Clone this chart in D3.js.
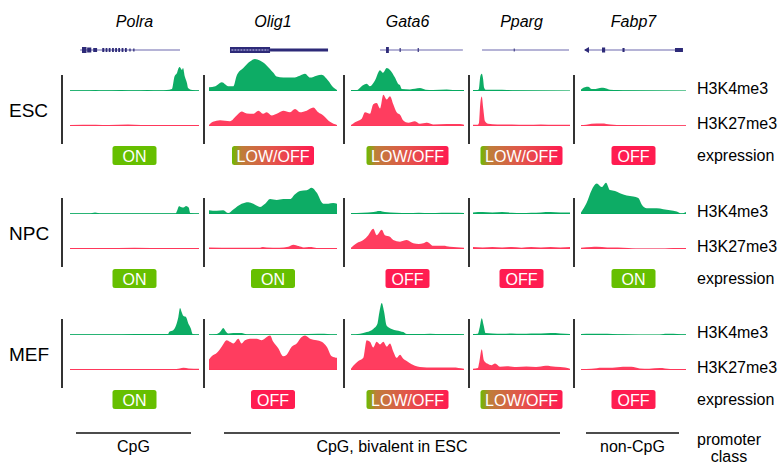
<!DOCTYPE html>
<html>
<head>
<meta charset="utf-8">
<script src="https://cdn.jsdelivr.net/npm/d3@7"></script>
<style>
  body { margin: 0; background: #fff; }
  svg { display: block; font-family: "Liberation Sans", Arial, sans-serif; }
</style>
</head>
<body>
<script>
// genes, cell stages, marks
var genes = ["Polra", "Olig1", "Gata6", "Pparg", "Fabp7"];
var stages = ["ESC", "NPC", "MEF"];
var marks = ["H3K4me3", "H3K27me3"];

// expression calls per stage (rows) and gene (columns)
var expression = [
    ["ON", "LOW/OFF", "LOW/OFF", "LOW/OFF", "OFF"],
    ["ON", "ON", "OFF", "OFF", "ON"],
    ["ON", "OFF", "LOW/OFF", "LOW/OFF", "OFF"]
];

// promoter classes: label, first gene, last gene
var promoterClass = [["CpG", 0, 0], ["CpG, bivalent in ESC", 1, 3], ["non-CpG", 4, 4]];

// ChIP-seq profiles: [position along locus (%), signal]
var escK4 = [
    [[0,2],[10,2],[20,3],[25,2],[40,3],[50,2],[60,3],[70,2],[75,3],[79,6],[81,45],[83,57],[84,70],[85,75],[86.8,66],[87.6,72],[89,45],[90.7,24],[91.5,9],[94.6,3],[100,2]],
    [[0,12],[5,15],[10,27],[15,15],[19,15],[21.6,48],[26.8,72],[32,92],[35.9,100],[39.8,95],[45,80],[50.3,57],[52.8,45],[58,42],[65.9,42],[71,48],[75,54],[79,42],[84,48],[88,51],[93,33],[97,12],[100,3]],
    [[0,3],[5,3],[10.6,18],[13.9,23],[16.8,15],[21.2,33],[25.7,65],[28.3,57],[31.6,72],[34.5,66],[38.9,42],[41.6,23],[43.4,18],[44.9,6],[52.2,5],[61,9],[66,4],[72.6,3],[84.7,5],[90,3],[100,3]],
    [[0,3],[5,3],[6.2,8],[7.5,45],[9,54],[10.3,40],[11.5,10],[13,4],[25,4],[35,3],[45,2],[100,1]],
    [[0,5],[3.8,12],[6.7,13],[10.2,6],[14,6],[18,9],[21,10],[24,8],[27.6,4],[35,3],[45,2],[100,1]]
];
var escK27 = [
    [[0,3],[20,4],[30,3],[45,5],[55,3],[100,3]],
    [[0,3],[3.1,13],[8.6,18],[16.4,15],[21.6,33],[25.5,45],[29.5,39],[34.6,38],[38.5,48],[42.4,38],[45,43],[49,33],[52.9,38],[58,48],[63.3,43],[67.2,53],[71.1,43],[76.3,48],[81.5,58],[85.4,43],[89.3,33],[94.5,13],[100,3]],
    [[0,3],[3.5,12],[9.5,23],[12.4,43],[16.8,38],[19.7,68],[22.7,72],[25.7,55],[28.6,98],[31.6,83],[34.5,93],[37.4,68],[40.4,43],[43.4,35],[46.3,17],[50.7,10],[56.6,15],[61,7],[67,10],[72.6,5],[84.7,6],[96.5,6],[100,4]],
    [[0,4],[5,4],[6.2,10],[7.5,70],[9,92],[10.6,54],[12.4,15],[15.5,7],[25,5],[40,5],[55,4],[70,5],[85,4],[100,4]],
    [[0,3],[5,4],[10,7],[20,8],[28,5],[40,3],[100,2]]
];
var npcK4 = [
    [[0,2],[15,2],[19.4,5],[24,2],[50,2],[82,2],[83,10],[84.5,24],[86.5,21],[88,20],[90,25],[92,20],[93.2,3],[100,2]],
    [[0,12],[6,10],[11.2,12],[15,3],[19,14],[25.5,32],[30.7,37],[34.6,32],[39.8,22],[43.8,32],[47.7,47],[52.9,44],[58,47],[63.3,47],[67.2,62],[71.1,72],[76.3,74],[80.2,82],[84.1,67],[89.3,32],[93.2,32],[97.1,34],[100,32]],
    [[0,3],[10,4],[20,6],[25,9],[30,6],[40,4],[50,3],[60,4],[70,3],[80,4],[90,4],[100,3]],
    [[0,5],[10,6],[20,5],[30,6],[40,4],[50,3],[60,4],[70,5],[80,6],[90,5],[100,5]],
    [[0,5],[5.4,35],[10.2,75],[15,95],[19.7,84],[23.8,98],[27.6,75],[32.4,72],[37.1,65],[43.5,58],[49.8,55],[54.6,50],[57.8,30],[62.6,18],[72.1,18],[78.4,15],[84.8,12],[91.1,8],[95.9,2],[100,6]]
];
var npcK27 = [
    [[0,3],[25,3],[50,4],[75,3],[100,3]],
    [[0,5],[20,4],[40,4],[42,6],[45,5],[55,4],[62,7],[66,13],[70,9],[74,5],[78,6],[82,5],[86,3],[100,3]],
    [[0,4],[5,18],[10.9,28],[15.3,43],[19.7,63],[22.7,43],[27.2,60],[30,43],[34.5,38],[37.4,28],[43.4,23],[49.3,28],[55.1,18],[60,16],[64,18],[67,23],[72.8,10],[81.7,10],[87.6,7],[100,4]],
    [[0,6],[10,5],[20,6],[30,5],[40,6],[50,4],[60,6],[70,5],[80,6],[90,5],[100,6]],
    [[0,4],[10,6],[15,7],[25,5],[35,5],[45,3],[52,1],[80,1],[88,3],[100,3]]
];
var mefK4 = [
    [[0,2],[30,2],[50,3],[76,3],[77,10],[80,15],[82.7,36],[84,56],[85.3,84],[86.6,71],[87.8,60],[89.9,56],[91.7,36],[93.6,21],[95.1,3],[100,2]],
    [[0,2],[6,3],[8.6,9],[11.2,22],[13,12],[15,5],[19,6],[25.5,6],[29.5,2],[50,2],[70,2],[85,4],[90,4],[95,2],[100,2]],
    [[0,2],[8,4],[13.9,9],[19.7,19],[23.3,34],[25,69],[27.2,100],[29.2,74],[31.6,29],[36,19],[40.4,14],[43.4,12],[46.3,9],[49.3,3],[60,3],[70,4],[80,3],[90,3],[100,2]],
    [[0,3],[5,4],[7,25],[9,52],[11,30],[13,6],[20,5],[30,4],[40,5],[50,4],[60,5],[70,5],[80,6],[90,5],[100,3]],
    [[0,3],[10,4],[20,4],[30,3],[40,2],[55,1],[75,1],[80,4],[88,4],[95,2],[100,2]]
];
var mefK27 = [
    [[0,3],[30,3],[60,3],[80,3],[85,5],[88,7],[92,5],[100,4]],
    [[0,33],[2.1,43],[6,53],[9.9,73],[13.8,93],[16.4,88],[19,83],[22.9,98],[25.5,83],[28.1,93],[32,98],[37.3,98],[41.2,93],[45.1,103],[47.7,108],[50.2,88],[54.1,68],[58,43],[60.7,48],[64.6,73],[68.5,83],[72.4,103],[75,108],[78.9,98],[84.1,93],[88,88],[92,73],[95.9,43],[100,38]],
    [[0,4],[2,13],[6.5,28],[10.9,38],[13.9,93],[16.8,88],[19.7,70],[22.7,88],[25.7,80],[28.6,88],[31.6,73],[34.5,83],[37.4,58],[40.4,38],[43.4,48],[46.3,35],[49.3,28],[53.7,18],[56.6,13],[61,9],[67,8],[78.8,8],[90.3,8],[100,4]],
    [[0,4],[5,6],[6.5,25],[9,65],[11.3,30],[14.7,20],[19.3,15],[22.7,20],[27.8,10],[35,12],[45,9],[55,11],[65,9],[75,13],[85,10],[95,8],[100,4]],
    [[0,3],[10,4],[20,7],[30,7],[40,10],[48,10],[56,5],[65,4],[75,6],[80,5],[90,3],[100,3]]
];

// gene models (locus %): transcribed span and exon blocks [start, end, height]
var geneSpan = [[7.8, 85.3], [16.4, 93], [25.7, 99], [9.3, 99], [3.8, 97.1]];
var geneExons = [
    [[9.3,12.8,6],[13.3,16.5,5],[18,21,4],[25,26.6,4],[27.6,29,4],[30,31.4,4],[32.6,34,4],[35,36.4,4],[37.4,38.8,4],[40,41.4,4],[42.6,44,4],[46,47,3],[49,50,3]],
    [[47.7,93,3]],
    [[31,33.5,6],[43,44,4],[59,60,4]],
    [[42,43,3]],
    [[20,23,5],[39.5,41.5,4],[89.5,97.1,4]]
];

var width = 778, height = 464;
var green = "#00a85d", red = "#ff3356";
var onColor = "#66bf00", offColor = "#ff1c50";

var svg = d3.select("body").append("svg")
    .attr("width", width)
    .attr("height", height);

var defs = svg.append("defs");
var grad = defs.append("linearGradient").attr("id", "lowoff");
[[0, "#6cbb00"], [0.12, "#bf7d3a"], [0.5, "#e3544b"], [1, "#ff1a50"]].forEach(function(s) {
    grad.append("stop").attr("offset", s[0]).attr("stop-color", s[1]);
});

// layout
var colX = [[70, 199], [209, 337], [351, 464], [473, 570], [581, 686]];
var sepX = [62, 204, 344, 469, 574];
var k4Base = [91, 214, 335];
var k27Gap = 35;
var labelX = 697;

var xs = colX.map(function(c) { return d3.scaleLinear().domain([0, 100]).range(c); });
var ys = d3.scaleLinear().domain([0, 100]).range([0, 32]);
var centers = colX.map(function(c) { return (c[0] + c[1]) / 2; });

// gene names
svg.selectAll("text.gene")
    .data(genes)
    .enter().append("text")
    .attr("class", "gene")
    .attr("x", function(d, i) { return centers[i]; })
    .attr("y", 27)
    .attr("text-anchor", "middle")
    .style("font-style", "italic")
    .style("font-size", "16px")
    .text(function(d) { return d; });

// gene models
var gm = svg.append("g").attr("transform", "translate(0,50)");
genes.forEach(function(g, i) {
    var x = xs[i];
    gm.append("line")
        .attr("x1", x(geneSpan[i][0])).attr("x2", x(geneSpan[i][1]))
        .attr("stroke", "#6d69ad").attr("stroke-width", 1.2);
    geneExons[i].forEach(function(e) {
        gm.append("rect")
            .attr("x", x(e[0])).attr("width", x(e[1]) - x(e[0]))
            .attr("y", -e[2] / 2).attr("height", e[2])
            .attr("fill", "#2d2a78");
    });
});
// Olig1 coding block
gm.append("rect")
    .attr("x", xs[1](16.4)).attr("width", xs[1](47.7) - xs[1](16.4))
    .attr("y", -3).attr("height", 6).attr("fill", "#2d2a78");
gm.append("line")
    .attr("x1", xs[1](17.5)).attr("x2", xs[1](46.5))
    .attr("stroke", "#9b98cc").attr("stroke-width", 1.5)
    .attr("stroke-dasharray", "2,1");
// Fabp7 arrow head
gm.append("path")
    .attr("d", "M" + (xs[4](3.8) - 1) + ",0 l5,-3 v6 z")
    .attr("fill", "#2d2a78");

// tracks
var tracks = [[escK4, escK27], [npcK4, npcK27], [mefK4, mefK27]];
var markColor = [green, red];
var baseColor = ["#8fd6b1", "#f59ab0"];

stages.forEach(function(stage, s) {
    var g = svg.append("g").attr("class", "stage");
    var base0 = k4Base[s];

    g.append("text")
        .attr("x", 9).attr("y", base0 + 19)
        .attr("dy", "0.35em")
        .style("font-size", "19px")
        .text(stage);

    sepX.forEach(function(x) {
        g.append("line")
            .attr("x1", x).attr("x2", x)
            .attr("y1", base0 - 16).attr("y2", base0 + 53)
            .attr("stroke", "#333").attr("stroke-width", 2);
    });

    marks.forEach(function(m, k) {
        var base = base0 + k * k27Gap;
        tracks[s][k].forEach(function(prof, i) {
            var x = xs[i];
            g.append("line")
                .attr("x1", x(0)).attr("x2", x(100))
                .attr("y1", base - 0.5).attr("y2", base - 0.5)
                .attr("stroke", baseColor[k]).attr("stroke-width", 1.2);
            var area = d3.area()
                .x(function(d) { return x(d[0]); })
                .y0(base)
                .y1(function(d) { return base - ys(d[1]); })
                .curve(d3.curveMonotoneX);
            g.append("path")
                .datum(prof)
                .attr("d", area)
                .attr("fill", markColor[k])
                .attr("fill-opacity", 0.95);
        });
        g.append("text")
            .attr("x", labelX).attr("y", base - 3)
            .attr("dy", "0.35em")
            .style("font-size", "16px")
            .text(m);
    });

    // expression badges
    var by = base0 + 55;
    expression[s].forEach(function(e, i) {
        var w = e === "LOW/OFF" ? 82 : 44;
        var fill = e === "ON" ? onColor : (e === "OFF" ? offColor : "url(#lowoff)");
        g.append("rect")
            .attr("x", centers[i] - w / 2).attr("y", by)
            .attr("width", w).attr("height", 19)
            .attr("rx", 2.5)
            .attr("fill", fill);
        g.append("text")
            .attr("x", centers[i]).attr("y", by + 15.5)
            .attr("text-anchor", "middle")
            .attr("fill", "#fff")
            .style("font-size", "16px")
            .text(e);
    });
    g.append("text")
        .attr("x", labelX).attr("y", by + 9.5)
        .attr("dy", "0.35em")
        .style("font-size", "16px")
        .text("expression");
});

// promoter class
var classInset = [[6, 8], [15, 10], [5, 7]];
promoterClass.forEach(function(p, i) {
    var x1 = colX[p[1]][0] + classInset[i][0];
    var x2 = colX[p[2]][1] - classInset[i][1];
    svg.append("line")
        .attr("x1", x1).attr("x2", x2)
        .attr("y1", 433).attr("y2", 433)
        .attr("stroke", "#111").attr("stroke-width", 1.3);
    svg.append("text")
        .attr("x", (x1 + x2) / 2).attr("y", 452)
        .attr("text-anchor", "middle")
        .style("font-size", "16px")
        .text(p[0]);
});
svg.append("text")
    .attr("x", 729).attr("y", 445)
    .attr("text-anchor", "middle")
    .style("font-size", "16px")
    .text("promoter");
svg.append("text")
    .attr("x", 729).attr("y", 462)
    .attr("text-anchor", "middle")
    .style("font-size", "16px")
    .text("class");
</script>
</body>
</html>
